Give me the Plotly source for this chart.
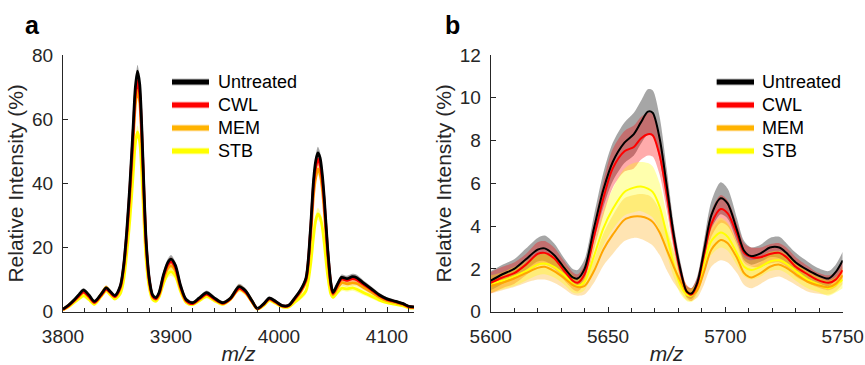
import plotly.graph_objects as go

# ---------------- data: panel a ----------------
mz_a = [3800, 3805, 3810, 3815, 3819, 3824, 3829, 3835, 3840, 3844, 3848, 3853, 3856, 3859,
        3862, 3865, 3867, 3869, 3871, 3873, 3875, 3877, 3880, 3883, 3886, 3889, 3893, 3897,
        3900, 3904, 3909, 3914, 3920, 3926, 3933, 3940, 3948, 3955, 3963, 3969, 3975, 3980,
        3986, 3991, 3997, 4003, 4009, 4014, 4020, 4025, 4029, 4032, 4034, 4036, 4038, 4040,
        4042, 4045, 4048, 4050, 4054, 4058, 4063, 4068, 4072, 4078, 4085, 4093, 4100, 4108,
        4115, 4120, 4125]
untreated_a = [0.8, 2.0, 3.6, 5.4, 6.7, 5.2, 3.2, 5.3, 7.4, 6.2, 5.0, 8.0, 14, 25,
               40, 58, 70, 75, 71, 57, 38, 22, 10, 5.2, 4.4, 6.0, 11.5, 15.3,
               16.4, 14.5, 8.0, 3.8, 2.8, 4.2, 5.9, 4.3, 2.8, 4.2, 7.8, 6.5, 3.4, 1.0,
               2.5, 4.2, 3.2, 1.9, 2.0, 4.0, 6.8, 10.5, 25, 41, 47, 49.5, 48, 43,
               35, 20, 9.0, 6.0, 8.5, 10.7, 10.3, 10.9, 10.6, 9.0, 7.3, 5.2, 4.0, 3.2,
               2.5, 1.7, 1.5]
cwl_a = [0.7, 1.8, 3.3, 5.0, 6.2, 4.8, 2.9, 5.0, 7.0, 5.9, 4.7, 7.6, 13.5, 24,
         38.5, 56, 67.5, 72, 68, 55, 36.5, 21, 9.5, 4.8, 4.0, 5.6, 11, 14.6,
         15.6, 13.8, 7.6, 3.5, 2.5, 3.9, 5.5, 4.0, 2.6, 4.0, 7.3, 6.1, 3.2, 0.9,
         2.4, 4.0, 3.0, 1.8, 1.9, 3.8, 6.5, 10.1, 24, 39.5, 45.2, 47.5, 46, 41.3,
         33.5, 19.2, 8.6, 5.7, 8.1, 10.2, 9.8, 10.3, 10.0, 8.6, 7.0, 5.0, 3.8, 3.1,
         2.4, 1.6, 1.4]
mem_a = [0.7, 1.9, 3.4, 5.0, 6.0, 4.6, 2.8, 5.3, 7.6, 6.0, 4.6, 7.2, 12.8, 23,
         36.5, 53.5, 64.5, 69, 65.5, 52.5, 35, 20, 9.0, 4.6, 3.9, 5.3, 10.2, 13.5,
         14.3, 12.8, 7.1, 3.3, 2.5, 3.8, 5.4, 3.9, 2.6, 4.1, 7.6, 6.3, 3.3, 0.9,
         2.3, 3.9, 2.9, 1.7, 1.8, 3.6, 6.1, 9.5, 22, 36.5, 41.8, 44.5, 43, 38.5,
         31, 17.5, 7.8, 5.3, 7.3, 9.0, 8.7, 9.0, 8.8, 7.6, 6.2, 4.5, 3.4, 2.8,
         2.2, 1.5, 1.3]
stb_a = [0.6, 1.5, 2.8, 4.1, 5.0, 3.8, 2.3, 4.6, 6.5, 5.2, 4.0, 5.6, 9.5, 18,
         29, 43, 52.5, 56, 53, 42.5, 28, 16, 7.2, 3.8, 3.3, 4.6, 8.8, 11.8,
         12.5, 11.2, 6.2, 2.9, 2.2, 3.4, 4.8, 3.5, 2.3, 3.8, 7.0, 5.8, 3.0, 0.8,
         2.0, 3.5, 2.6, 1.5, 1.5, 2.8, 4.5, 6.5, 14, 23.5, 28.5, 30.5, 29.5, 26.5,
         21, 11.5, 5.5, 4.5, 6.0, 7.3, 7.1, 7.4, 7.0, 6.0, 4.9, 3.6, 2.8, 2.3,
         1.8, 1.2, 1.1]
sd_a = [0.4, 0.5, 0.6, 0.6, 0.7, 0.6, 0.5, 0.6, 0.7, 0.6, 0.6, 0.7, 0.9, 1.2,
        1.5, 1.8, 2.0, 2.0, 1.9, 1.6, 1.3, 1.0, 0.8, 0.6, 0.6, 0.7, 1.0, 1.2,
        1.3, 1.1, 0.8, 0.6, 0.5, 0.6, 0.7, 0.6, 0.5, 0.6, 0.9, 0.8, 0.6, 0.4,
        0.5, 0.6, 0.5, 0.4, 0.5, 0.6, 0.8, 1.0, 1.3, 1.6, 1.8, 1.9, 1.8, 1.6,
        1.4, 1.0, 0.7, 0.6, 0.7, 0.9, 0.9, 0.9, 0.9, 0.8, 0.7, 0.6, 0.5, 0.5,
        0.4, 0.4, 0.3]

# ---------------- data: panel b ----------------
mz_b = [5600, 5605, 5610, 5615, 5620, 5623, 5627, 5631, 5635, 5637, 5640, 5644, 5648, 5652,
        5657, 5661, 5664, 5667, 5669, 5672, 5675, 5678, 5681, 5683.5, 5685.5, 5688, 5691,
        5694, 5698, 5701, 5705, 5708, 5711, 5715, 5719, 5723, 5726, 5730, 5735, 5739, 5744,
        5747, 5750]
untreated_b = [1.45, 1.75, 2.0, 2.45, 2.9, 2.96, 2.65, 2.1, 1.6, 1.55, 2.0, 3.9, 5.7, 7.0,
               7.9, 8.3, 8.85, 9.35, 9.3, 8.1, 5.9, 3.6, 1.9, 0.95, 0.85, 1.35, 2.9,
               4.5, 5.3, 5.05, 3.8, 2.85, 2.6, 2.73, 3.0, 3.0, 2.75, 2.3, 1.95, 1.72, 1.55,
               1.85, 2.4]
cwl_b = [1.35, 1.6, 1.8, 2.2, 2.7, 2.75, 2.5, 1.95, 1.45, 1.35, 1.75, 3.5, 5.3, 6.7,
         7.5, 7.7, 8.1, 8.3, 8.25, 7.3, 5.5, 3.4, 1.8, 0.95, 0.8, 1.25, 2.7,
         4.1, 4.8, 4.6, 3.6, 2.75, 2.55, 2.55, 2.7, 2.75, 2.55, 2.1, 1.75, 1.5, 1.35,
         1.5, 1.95]
mem_b = [1.2, 1.35, 1.55, 1.8, 2.05, 2.1, 1.9, 1.6, 1.25, 1.15, 1.2, 1.9, 2.9, 3.6,
         4.3, 4.45, 4.45, 4.35, 4.2, 3.7, 2.9, 2.1, 1.4, 0.9, 0.8, 1.0, 1.9,
         2.9, 3.35, 3.2, 2.5, 1.8, 1.6, 1.8, 2.1, 2.2, 2.05, 1.75, 1.4, 1.25, 1.15,
         1.3, 1.7]
stb_b = [1.3, 1.45, 1.65, 1.9, 2.2, 2.25, 2.1, 1.75, 1.3, 1.2, 1.4, 2.6, 3.9, 4.8,
         5.6, 5.8, 5.85, 5.75, 5.6, 4.9, 3.6, 2.2, 1.2, 0.8, 0.75, 1.1, 2.3,
         3.3, 3.7, 3.5, 2.7, 2.1, 1.95, 2.1, 2.35, 2.4, 2.25, 1.9, 1.5, 1.3, 1.1,
         1.25, 1.5]
sd_untreated_b = [0.45, 0.45, 0.45, 0.5, 0.55, 0.6, 0.55, 0.45, 0.4, 0.4, 0.45, 0.6, 0.8, 0.9,
                  0.95, 1.0, 1.0, 1.05, 1.05, 1.0, 0.8, 0.5, 0.35, 0.25, 0.25, 0.3, 0.5,
                  0.65, 0.75, 0.7, 0.55, 0.45, 0.4, 0.4, 0.45, 0.5, 0.45, 0.45, 0.4, 0.35, 0.35,
                  0.35, 0.4]
sd_cwl_b = [0.5, 0.5, 0.5, 0.5, 0.55, 0.55, 0.5, 0.45, 0.4, 0.4, 0.45, 0.6, 0.8, 0.9,
            0.95, 1.0, 1.0, 1.0, 1.0, 0.9, 0.75, 0.5, 0.35, 0.3, 0.3, 0.35, 0.5,
            0.6, 0.65, 0.6, 0.5, 0.45, 0.45, 0.45, 0.45, 0.45, 0.45, 0.45, 0.4, 0.35, 0.35,
            0.35, 0.4]
sd_mem_b = [0.35, 0.35, 0.4, 0.45, 0.55, 0.6, 0.55, 0.5, 0.45, 0.4, 0.4, 0.55, 0.75, 0.9,
            1.0, 1.0, 1.05, 1.1, 1.1, 1.05, 0.95, 0.75, 0.5, 0.35, 0.3, 0.35, 0.6,
            0.8, 0.95, 0.9, 0.7, 0.55, 0.5, 0.5, 0.55, 0.55, 0.55, 0.5, 0.45, 0.4, 0.35,
            0.35, 0.4]
sd_stb_b = [0.4, 0.4, 0.45, 0.45, 0.5, 0.5, 0.5, 0.45, 0.4, 0.35, 0.4, 0.6, 0.8, 0.95,
            1.1, 1.15, 1.15, 1.2, 1.2, 1.1, 0.9, 0.6, 0.4, 0.3, 0.3, 0.35, 0.5,
            0.65, 0.7, 0.65, 0.55, 0.45, 0.45, 0.45, 0.45, 0.45, 0.45, 0.45, 0.4, 0.35, 0.35,
            0.35, 0.4]

names = ["Untreated", "CWL", "MEM", "STB"]
line_colors = ["#000000", "#FF0000", "#FFA500", "#FFFF00"]
band_colors = ["rgba(0,0,0,0.35)", "rgba(255,0,0,0.33)", "rgba(255,165,0,0.30)", "rgba(255,255,0,0.32)"]
legend_colors = ["#000000", "#FF0000", "#FFB300", "#FFFF00"]

FONT = "Liberation Sans, Arial, sans-serif"
TXT = "#262626"
W, H = 865, 365

fig = go.Figure()


def add_panel(x, series, sds, xa, ya, lw):
    for s, sd, bc in zip(series, sds, band_colors):
        lo = [m - d for m, d in zip(s, sd)]
        hi = [m + d for m, d in zip(s, sd)]
        fig.add_trace(go.Scatter(x=x, y=lo, mode="lines", line=dict(width=0, shape="spline", smoothing=0.8),
                                 showlegend=False, hoverinfo="skip", xaxis=xa, yaxis=ya))
        fig.add_trace(go.Scatter(x=x, y=hi, mode="lines", line=dict(width=0, shape="spline", smoothing=0.8),
                                 fill="tonexty", fillcolor=bc, showlegend=False, hoverinfo="skip",
                                 xaxis=xa, yaxis=ya))
    for s, lc in list(zip(series, line_colors))[::-1]:
        fig.add_trace(go.Scatter(x=x, y=s, mode="lines",
                                 line=dict(color=lc, width=lw, shape="spline", smoothing=0.8),
                                 showlegend=False, xaxis=xa, yaxis=ya))


add_panel(mz_a, [untreated_a, cwl_a, mem_a, stb_a], [sd_a, sd_a, sd_a, sd_a], "x", "y", 2.8)
add_panel(mz_b, [untreated_b, cwl_b, mem_b, stb_b],
          [sd_untreated_b, sd_cwl_b, sd_mem_b, sd_stb_b], "x2", "y2", 2.0)

xa_dom = [63 / W, 414 / W]
xb_dom = [490.7 / W, 842.7 / W]
y_dom = [1 - 311.7 / H, 1 - 55 / H]

axis_common = dict(showline=True, linecolor=TXT, linewidth=1, ticks="inside", ticklen=5,
                   tickcolor=TXT, showgrid=False, zeroline=False, mirror=False, automargin=False,
                   tickfont=dict(family=FONT, size=19, color=TXT))
title_font = dict(family=FONT, size=21, color=TXT)

# manual legends (paper coordinates from pixel positions)
shapes = []
annotations = []
legend_rows = [82, 105, 128, 151]
halo = ["rgba(0,0,0,0.25)", "rgba(255,0,0,0.25)", "rgba(255,165,0,0.25)", "rgba(255,255,0,0.25)"]
for x0, x1, xt in [(172, 209, 216), (716.7, 754, 760)]:
    for name, col, hc, yr in zip(names, legend_colors, halo, legend_rows):
        yp = 1 - yr / H
        shapes.append(dict(type="line", xref="paper", yref="paper", x0=x0 / W, x1=x1 / W, y0=yp, y1=yp,
                           line=dict(color=hc, width=7)))
        shapes.append(dict(type="line", xref="paper", yref="paper", x0=x0 / W, x1=x1 / W, y0=yp, y1=yp,
                           line=dict(color=col, width=5)))
        annotations.append(dict(text=name, x=xt / W, y=yp, xref="paper", yref="paper",
                                xanchor="left", yanchor="middle", showarrow=False,
                                font=dict(family=FONT, size=18, color="#000000")))

annotations += [
    dict(text="<b>a</b>", x=23 / W, y=1 - 25 / H, xref="paper", yref="paper",
         xanchor="left", yanchor="middle", showarrow=False,
         font=dict(family=FONT, size=25, color="#000000")),
    dict(text="<b>b</b>", x=443 / W, y=1 - 25 / H, xref="paper", yref="paper",
         xanchor="left", yanchor="middle", showarrow=False,
         font=dict(family=FONT, size=25, color="#000000")),
]

fig.update_layout(
    width=W, height=H, margin=dict(l=0, r=0, t=0, b=0),
    paper_bgcolor="white", plot_bgcolor="white", showlegend=False,
    xaxis=dict(domain=xa_dom, range=[3800, 4125], anchor="y", tick0=3800, dtick=100,
               minor=dict(dtick=20, ticks="inside", ticklen=4, tickcolor=TXT),
               ticklabelstandoff=7,
               title=dict(text="<i>m/z</i>", standoff=8, font=title_font), **axis_common),
    yaxis=dict(domain=y_dom, range=[0, 80], anchor="x", dtick=20, ticklabelstandoff=5,
               title=dict(text="Relative Intensity (%)", standoff=2, font=title_font), **axis_common),
    xaxis2=dict(domain=xb_dom, range=[5600, 5750], anchor="y2", tick0=5600, dtick=50,
                minor=dict(dtick=10, ticks="inside", ticklen=4, tickcolor=TXT),
                ticklabelstandoff=7,
                title=dict(text="<i>m/z</i>", standoff=8, font=title_font), **axis_common),
    yaxis2=dict(domain=y_dom, range=[0, 12], anchor="x2", dtick=2, ticklabelstandoff=5,
                title=dict(text="Relative Intensity (%)", standoff=2, font=title_font), **axis_common),
    shapes=shapes,
    annotations=annotations,
)

fig.write_html("out.html")
